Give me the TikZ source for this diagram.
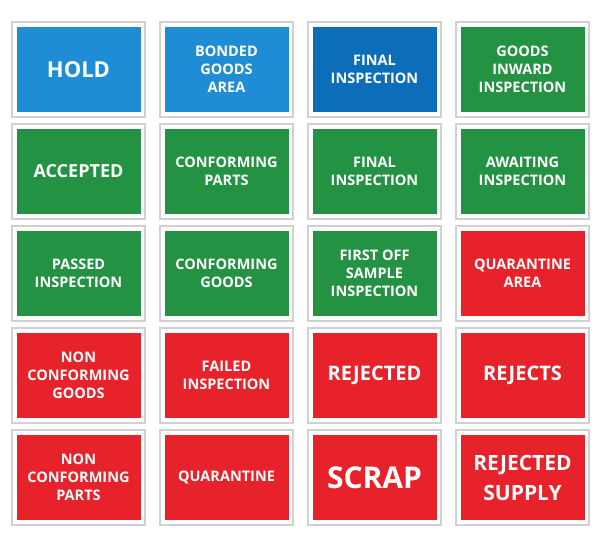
\documentclass[tikz,border=0pt]{standalone}
\usepackage{fontspec}
\setmainfont{Open Sans}
\definecolor{sblue}{HTML}{1F8DD6}
\definecolor{dblue}{HTML}{0C6DB9}
\definecolor{sgreen}{HTML}{239343}
\definecolor{sred}{HTML}{E8222B}
\tikzset{
 frame/.style={fill=white,draw=black!18,line width=1.2pt,minimum width=133pt,minimum height=95pt,inner sep=0pt},
 sign/.style={minimum width=124pt,minimum height=85pt,inner sep=0pt,text=white,font=\bfseries\fontsize{14.5}{18}\selectfont,align=center,fill=#1},
 big/.style={font=\bfseries\fontsize{22}{26}\selectfont},
 mid/.style={font=\bfseries\fontsize{18}{24}\selectfont}
}
\begin{document}
\begin{tikzpicture}[x=1pt,y=-1pt]
\useasboundingbox (0,0) rectangle (600,544);
\foreach \c in {0,1,2,3}{\foreach \r in {0,1,2,3,4}{
 \node[frame] (f\c\r) at (78.5+148*\c,69.5+102*\r) {};}}
\node[sign=sblue,big] (s1) at (f00) {HOLD};
\node[sign=sblue] (s2) at (f10) {BONDED\\GOODS\\AREA};
\node[sign=dblue] (s3) at (f20) {FINAL\\INSPECTION};
\node[sign=sgreen] (s4) at (f30) {GOODS\\INWARD\\INSPECTION};
\node[sign=sgreen,font=\bfseries\fontsize{18}{22}\selectfont] (s5) at (f01) {ACCEPTED};
\node[sign=sgreen] (s6) at (f11) {CONFORMING\\PARTS};
\node[sign=sgreen] (s7) at (f21) {FINAL\\INSPECTION};
\node[sign=sgreen] (s8) at (f31) {AWAITING\\INSPECTION};
\node[sign=sgreen] (s9) at (f02) {PASSED\\INSPECTION};
\node[sign=sgreen] (s10) at (f12) {CONFORMING\\GOODS};
\node[sign=sgreen] (s11) at (f22) {FIRST OFF\\SAMPLE\\INSPECTION};
\node[sign=sred] (s12) at (f32) {QUARANTINE\\AREA};
\node[sign=sred] (s13) at (f03) {NON\\CONFORMING\\GOODS};
\node[sign=sred] (s14) at (f13) {FAILED\\INSPECTION};
\node[sign=sred,font=\bfseries\fontsize{20}{24}\selectfont] (s15) at (f23) {REJECTED};
\node[sign=sred,font=\bfseries\fontsize{20}{24}\selectfont] (s16) at (f33) {REJECTS};
\node[sign=sred] (s17) at (f04) {NON\\CONFORMING\\PARTS};
\node[sign=sred] (s18) at (f14) {QUARANTINE};
\node[sign=sred,font=\bfseries\fontsize{30}{34}\selectfont] (s19) at (f24) {SCRAP};
\node[sign=sred,font=\bfseries\fontsize{21}{30}\selectfont] (s20) at (f34) {REJECTED\\SUPPLY};
\end{tikzpicture}
\end{document}
